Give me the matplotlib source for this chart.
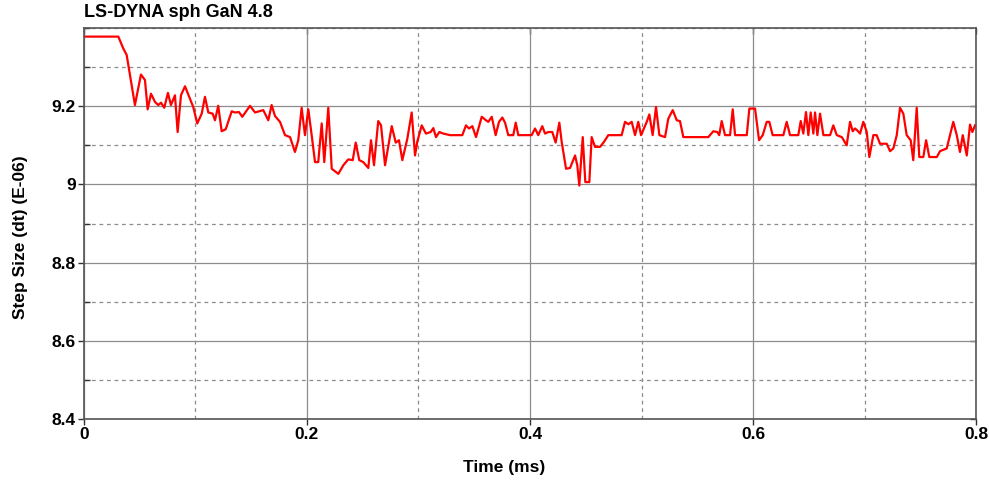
# ==========================================================
# LS-DYNA sph GaN 4.8 : step size vs time
# ==========================================================

import matplotlib
matplotlib.use("Agg")
import matplotlib.pyplot as plt
from matplotlib.ticker import MultipleLocator

# ==========================================================
# DATA
# ==========================================================

time_ms = [
    0.0, 0.0308, 0.0352, 0.0383, 0.0457, 0.0511, 0.0547, 0.0571, 0.0601, 0.0637,
    0.0666, 0.0691, 0.0720, 0.0753, 0.0780, 0.0816, 0.0840, 0.0870, 0.0906, 0.0980,
    0.1016, 0.1056, 0.1085, 0.1115, 0.1154, 0.1175, 0.1204, 0.1235, 0.1271, 0.1325,
    0.1354, 0.1390, 0.1420, 0.1489, 0.1534, 0.1608, 0.1653, 0.1683, 0.1713, 0.1758,
    0.1803, 0.1848, 0.1892, 0.1922, 0.1952, 0.1982, 0.2012, 0.2042, 0.2072, 0.2101,
    0.2132, 0.2155, 0.2191, 0.2222, 0.2281, 0.2326, 0.2370, 0.2410, 0.2437, 0.2469,
    0.2505, 0.2550, 0.2574, 0.2601, 0.2639, 0.2664, 0.2700, 0.2760, 0.2796, 0.2825,
    0.2855, 0.2900, 0.2939, 0.2969, 0.2989, 0.3029, 0.3067, 0.3109, 0.3133, 0.3157,
    0.3187, 0.3222, 0.3283, 0.3393, 0.3426, 0.3453, 0.3483, 0.3516, 0.3567, 0.3605,
    0.3626, 0.3657, 0.3692, 0.3722, 0.3752, 0.3776, 0.3805, 0.3850, 0.3872, 0.3895,
    0.4015, 0.4045, 0.4074, 0.4110, 0.4135, 0.4164, 0.4200, 0.4230, 0.4263, 0.4284,
    0.4323, 0.4359, 0.4404, 0.4424, 0.4442, 0.4473, 0.4496, 0.4532, 0.4553, 0.4583,
    0.4628, 0.4664, 0.4702, 0.4822, 0.4852, 0.4882, 0.4912, 0.4942, 0.4971, 0.4996,
    0.5047, 0.5070, 0.5100, 0.5130, 0.5160, 0.5211, 0.5240, 0.5280, 0.5316, 0.5345,
    0.5375, 0.5599, 0.5644, 0.5680, 0.5697, 0.5719, 0.5749, 0.5794, 0.5818, 0.5839,
    0.5944, 0.5967, 0.6018, 0.6054, 0.6087, 0.6123, 0.6146, 0.6176, 0.6272, 0.6302,
    0.6332, 0.6406, 0.6428, 0.6451, 0.6475, 0.6496, 0.6517, 0.6541, 0.6556, 0.6577,
    0.6601, 0.6631, 0.6691, 0.6720, 0.6751, 0.6796, 0.6840, 0.6870, 0.6894, 0.6915,
    0.6935, 0.6960, 0.6989, 0.7020, 0.7043, 0.7079, 0.7109, 0.7139, 0.7199, 0.7229,
    0.7258, 0.7289, 0.7318, 0.7348, 0.7378, 0.7414, 0.7437, 0.7468, 0.7491, 0.7527,
    0.7552, 0.7581, 0.7648, 0.7677, 0.7737, 0.7796, 0.7827, 0.7856, 0.7881, 0.7917,
    0.7946, 0.7967, 0.7991,
]

step_size = [
    9.378, 9.378, 9.348, 9.331, 9.203, 9.281, 9.267, 9.192, 9.232, 9.211,
    9.203, 9.209, 9.196, 9.234, 9.203, 9.228, 9.134, 9.228, 9.251, 9.198,
    9.156, 9.181, 9.224, 9.184, 9.181, 9.164, 9.201, 9.136, 9.141, 9.187,
    9.184, 9.185, 9.173, 9.201, 9.184, 9.190, 9.164, 9.203, 9.175, 9.160,
    9.126, 9.121, 9.083, 9.113, 9.196, 9.126, 9.192, 9.126, 9.057, 9.057,
    9.156, 9.057, 9.196, 9.040, 9.027, 9.049, 9.064, 9.062, 9.107, 9.062,
    9.057, 9.042, 9.113, 9.049, 9.162, 9.151, 9.049, 9.149, 9.107, 9.113,
    9.062, 9.117, 9.184, 9.074, 9.109, 9.151, 9.130, 9.134, 9.144, 9.121,
    9.134, 9.130, 9.126, 9.126, 9.151, 9.143, 9.149, 9.121, 9.173, 9.164,
    9.160, 9.173, 9.126, 9.160, 9.171, 9.158, 9.126, 9.126, 9.158, 9.126,
    9.126, 9.143, 9.126, 9.149, 9.130, 9.134, 9.134, 9.107, 9.158, 9.109,
    9.040, 9.042, 9.074, 9.049, 8.997, 9.121, 9.006, 9.006, 9.121, 9.096,
    9.096, 9.109, 9.126, 9.126, 9.160, 9.154, 9.160, 9.126, 9.160, 9.126,
    9.160, 9.179, 9.126, 9.198, 9.126, 9.121, 9.168, 9.190, 9.164, 9.162,
    9.121, 9.121, 9.136, 9.134, 9.126, 9.162, 9.126, 9.126, 9.192, 9.126,
    9.126, 9.194, 9.194, 9.113, 9.126, 9.160, 9.160, 9.126, 9.126, 9.160,
    9.126, 9.126, 9.162, 9.130, 9.185, 9.126, 9.184, 9.130, 9.184, 9.126,
    9.181, 9.126, 9.126, 9.151, 9.126, 9.121, 9.100, 9.160, 9.136, 9.143,
    9.138, 9.130, 9.160, 9.134, 9.070, 9.126, 9.126, 9.104, 9.104, 9.085,
    9.092, 9.126, 9.196, 9.181, 9.126, 9.113, 9.062, 9.196, 9.070, 9.070,
    9.113, 9.070, 9.070, 9.085, 9.092, 9.160, 9.126, 9.083, 9.126, 9.074,
    9.153, 9.134, 9.151,
]

x_ticks = [0, 0.2, 0.4, 0.6, 0.8]
x_tick_labels = ["0", "0.2", "0.4", "0.6", "0.8"]
y_ticks = [8.4, 8.6, 8.8, 9.0, 9.2]
y_tick_labels = ["8.4", "8.6", "8.8", "9", "9.2"]

TITLE = "LS-DYNA sph GaN 4.8"
X_LABEL = "Time (ms)"
Y_LABEL = "Step Size (dt) (E-06)"

# ==========================================================
# FIGURE
# ==========================================================

NARROW = ["Liberation Sans Narrow", "Liberation Sans", "DejaVu Sans"]
WIDE = ["Liberation Sans", "DejaVu Sans"]

fig = plt.figure(figsize=(9.89, 4.83), dpi=100)

ax = fig.add_axes([0.0849, 0.1325, 0.902, 0.8095])

ax.plot(time_ms, step_size, color="#ff0000", linewidth=1.6)

ax.set_xlim(0, 0.8)
ax.set_ylim(8.4, 9.4)

ax.xaxis.set_minor_locator(MultipleLocator(0.1))
ax.yaxis.set_minor_locator(MultipleLocator(0.1))

ax.set_xticks(x_ticks)
ax.set_xticklabels(x_tick_labels)
ax.set_yticks(y_ticks)
ax.set_yticklabels(y_tick_labels)

for label in ax.get_xticklabels() + ax.get_yticklabels():
    label.set_fontfamily(NARROW)
    label.set_fontweight("bold")
    label.set_fontsize(12.5)

ax.grid(which="major", color="#8c8c8c", linestyle="-", linewidth=0.9)
ax.grid(which="minor", color="#8c8c8c", linestyle=(0, (3, 3)), linewidth=0.9)
ax.set_axisbelow(True)

# outward ticks on left / bottom
ax.tick_params(which="major", direction="out", length=4, width=1,
               color="#333333", pad=2)
ax.tick_params(axis="y", which="minor", direction="in", length=4, width=1,
               color="#333333", left=True, right=False)
ax.tick_params(axis="x", which="minor", length=0)

# inward ticks on top / right (drawn on a twin so direction can differ)
ax_top = ax.secondary_xaxis("top")
ax_top.set_xticks(x_ticks)
ax_top.tick_params(direction="in", length=4, width=1, color="#333333",
                   labeltop=False)
ax_right = ax.secondary_yaxis("right")
ax_right.set_yticks(y_ticks)
ax_right.tick_params(direction="in", length=4, width=1, color="#333333",
                     labelright=False)
ax_top.spines["top"].set_visible(False)
ax_right.spines["right"].set_visible(False)

for spine in ax.spines.values():
    spine.set_color("#555555")
    spine.set_linewidth(1.2)

ax.set_xlabel(X_LABEL, fontfamily=NARROW, fontweight="bold", fontsize=12.5)
ax.set_ylabel(Y_LABEL, fontfamily=NARROW, fontweight="bold", fontsize=12.5)
ax.xaxis.set_label_coords(0.471, -0.105)
ax.yaxis.set_label_coords(-0.063, 0.465)

fig.text(0.0849, 0.975, TITLE, fontfamily=WIDE, fontweight="bold",
         fontsize=13, ha="left", va="center")

fig.savefig("out.png", dpi=100)
plt.close(fig)
